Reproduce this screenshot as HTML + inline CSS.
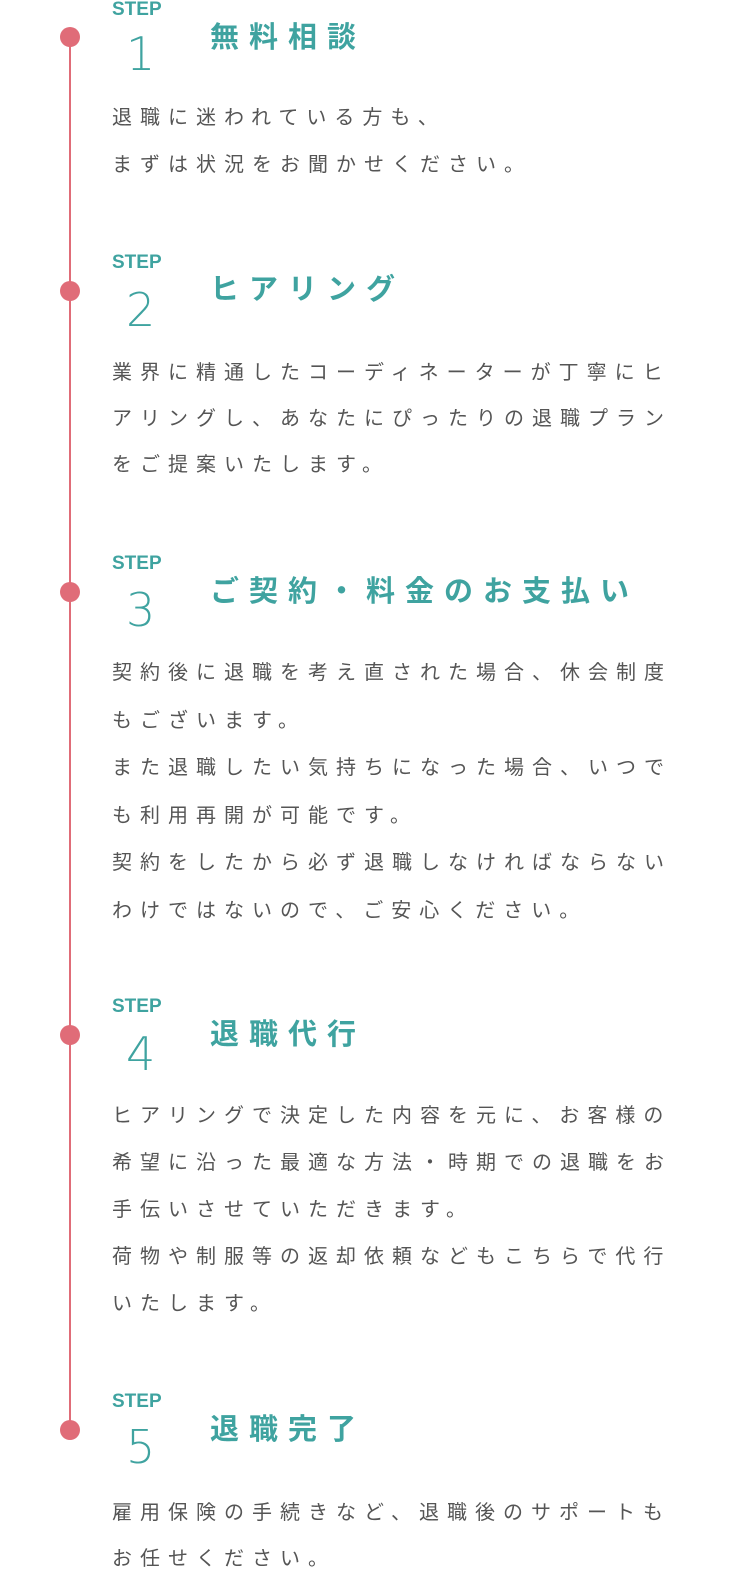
<!DOCTYPE html>
<html><head><meta charset="utf-8"><style>
body{margin:0;width:740px;height:1584px;background:#fff;position:relative;overflow:hidden;font-family:"Liberation Sans","Noto Sans CJK JP",sans-serif}
.line{position:absolute;left:69px;top:37px;width:2px;height:1393px;background:#e06c78}
.dot{position:absolute;left:60px;width:20px;height:20px;border-radius:50%;background:#e06c78}
.step{position:absolute;left:112px;font-size:19px;font-weight:bold;color:#3fa3a0;line-height:20px}
.num{position:absolute;left:126px;font-size:46px;color:#3fa3a0;line-height:50px;font-family:"DejaVu Sans","Liberation Sans",sans-serif;font-weight:200}
.title{position:absolute;left:210px;font-size:29px;font-weight:bold;color:#3fa3a0;letter-spacing:10px;line-height:36px;white-space:nowrap}
.body{position:absolute;left:112px;font-size:20px;color:#555;letter-spacing:8px;line-height:47px;white-space:nowrap}
</style></head><body>
<div class="line"></div>
<div class="dot" style="top:27px"></div>
<div class="dot" style="top:281px"></div>
<div class="dot" style="top:582px"></div>
<div class="dot" style="top:1025px"></div>
<div class="dot" style="top:1420px"></div>

<div class="step" style="top:0px">STEP</div>
<div class="num" style="top:29px">1</div>
<div class="title" style="top:20px">無料相談</div>
<div class="body" style="top:95px">退職に迷われている方も、<br>まずは状況をお聞かせください。</div>

<div class="step" style="top:253px">STEP</div>
<div class="num" style="top:285px">2</div>
<div class="title" style="top:272px">ヒアリング</div>
<div class="body" style="top:350px;line-height:46px">業界に精通したコーディネーターが丁寧にヒ<br>アリングし、あなたにぴったりの退職プラン<br>をご提案いたします。</div>

<div class="step" style="top:554px">STEP</div>
<div class="num" style="top:585px">3</div>
<div class="title" style="top:574px">ご契約・料金のお支払い</div>
<div class="body" style="top:650px;line-height:47.5px">契約後に退職を考え直された場合、休会制度<br>もございます。<br>また退職したい気持ちになった場合、いつで<br>も利用再開が可能です。<br>契約をしたから必ず退職しなければならない<br>わけではないので、ご安心ください。</div>

<div class="step" style="top:997px">STEP</div>
<div class="num" style="top:1029px">4</div>
<div class="title" style="top:1017px">退職代行</div>
<div class="body" style="top:1093px;line-height:47px">ヒアリングで決定した内容を元に、お客様の<br>希望に沿った最適な方法・時期での退職をお<br>手伝いさせていただきます。<br>荷物や制服等の返却依頼などもこちらで代行<br>いたします。</div>

<div class="step" style="top:1392px">STEP</div>
<div class="num" style="top:1422px">5</div>
<div class="title" style="top:1412px">退職完了</div>
<div class="body" style="top:1490px;line-height:46px">雇用保険の手続きなど、退職後のサポートも<br>お任せください。</div>
</body></html>
